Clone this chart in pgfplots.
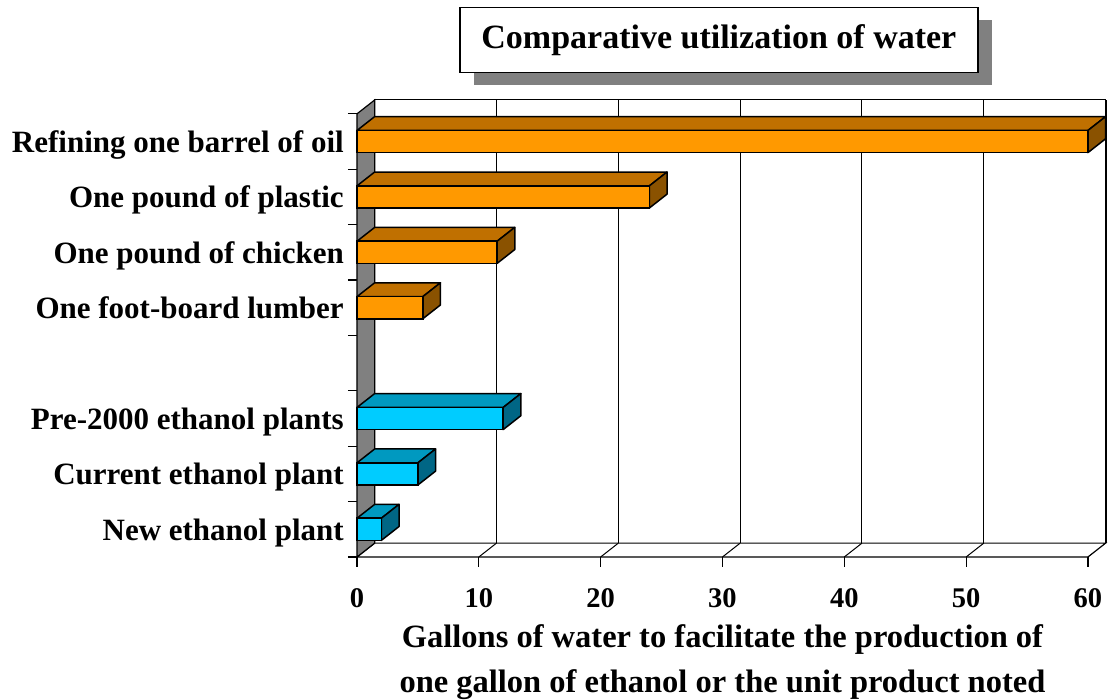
\documentclass[border=0pt]{standalone}
\usepackage{fontspec}
\setmainfont{Liberation Serif}
\usepackage{pgfplots}
\usepackage{pgfplotstable}
\pgfplotsset{compat=1.18}
\usetikzlibrary{shadows}
\definecolor{orF}{HTML}{FF9900}
\definecolor{orT}{HTML}{C07000}
\definecolor{orS}{HTML}{8A5200}
\definecolor{cyF}{HTML}{00CCFF}
\definecolor{cyT}{HTML}{0099C0}
\definecolor{cyS}{HTML}{006685}
\definecolor{wallgray}{HTML}{808080}

% category position (slot centre) and gallons of water
\pgfplotstableread{
pos value
7.5 60
6.5 24
5.5 11.5
4.5 5.4
}\orangedata
\pgfplotstableread{
pos value
2.5 12
1.5 5
0.5 2
}\cyandata

\begin{document}
\begin{tikzpicture}
\useasboundingbox (-357pt,-143pt) rectangle (752pt,557pt);
\begin{axis}[
  at={(0pt,0pt)}, anchor=south west,
  scale only axis, width=748.6pt, height=457pt,
  xmin=0, xmax=61.45, ymin=0, ymax=8.25,
  axis x line*=bottom, axis y line*=left,
  axis line style={draw=none},
  clip=false,
  xtick={0,10,...,60},
  ytick={0.5,1.5,2.5,4.5,5.5,6.5,7.5},
  yticklabels={New ethanol plant, Current ethanol plant, Pre-2000 ethanol plants, One foot-board lumber, One pound of chicken, One pound of plastic, Refining one barrel of oil},
  minor ytick={0,...,8},
  tick align=outside,
  major tick length=10pt,
  minor tick length=9pt,
  tick style={black, line width=1.2pt},
  every major y tick/.append style={draw=none},
  /pgf/number format/assume math mode=true,
  xticklabel style={font=\fontsize{28.5}{32}\selectfont\bfseries, anchor=base, inner sep=0pt, yshift=-41pt},
  yticklabel style={font=\fontsize{31}{36}\selectfont\bfseries, anchor=base east, inner sep=0pt, xshift=-3pt, yshift=-11pt},
  xlabel={Gallons of water to facilitate the production of\\one gallon of ethanol or the unit product noted},
  xlabel style={align=center, font=\fontsize{32.5}{45}\selectfont\bfseries, at={(axis description cs:0.4882,0)}, anchor=north, inner sep=0pt, yshift=-67pt},
  title={Comparative utilization of water},
  title style={at={(axis description cs:0.4834,1)}, anchor=center, yshift=54pt, draw=black, line width=1.5pt, fill=white, minimum width=518pt, minimum height=65pt, inner sep=0pt, font=\fontsize{34}{40}\selectfont\bfseries, general shadow={fill=wallgray, draw=none, shadow xshift=14pt, shadow yshift=-13pt}},
]
% back wall
\addplot[fill=white, draw=black, line width=1pt, mark=none, forget plot] coordinates {(1.45,0.25) (61.45,0.25) (61.45,8.25) (1.45,8.25)} -- cycle;
% gridlines on back wall
\addplot[black, line width=1pt, mark=none, forget plot] coordinates {(11.45,0.25) (11.45,8.25)};
\addplot[black, line width=1pt, mark=none, forget plot] coordinates {(21.45,0.25) (21.45,8.25)};
\addplot[black, line width=1pt, mark=none, forget plot] coordinates {(31.45,0.25) (31.45,8.25)};
\addplot[black, line width=1pt, mark=none, forget plot] coordinates {(41.45,0.25) (41.45,8.25)};
\addplot[black, line width=1pt, mark=none, forget plot] coordinates {(51.45,0.25) (51.45,8.25)};
\addplot[black, line width=2pt, mark=none, forget plot] coordinates {(61.45,0.25) (61.45,8.25)};
% floor
\addplot[fill=white, draw=black, line width=1.2pt, mark=none, forget plot] coordinates {(0,0) (60,0) (61.45,0.25) (1.45,0.25)} -- cycle;
\addplot[black, line width=1pt, mark=none, forget plot] coordinates {(10,0) (11.45,0.25)};
\addplot[black, line width=1pt, mark=none, forget plot] coordinates {(20,0) (21.45,0.25)};
\addplot[black, line width=1pt, mark=none, forget plot] coordinates {(30,0) (31.45,0.25)};
\addplot[black, line width=1pt, mark=none, forget plot] coordinates {(40,0) (41.45,0.25)};
\addplot[black, line width=1pt, mark=none, forget plot] coordinates {(50,0) (51.45,0.25)};
% left wall
\addplot[fill=wallgray, draw=black, line width=1.2pt, mark=none, forget plot] coordinates {(0,0) (1.45,0.25) (1.45,8.25) (0,8)} -- cycle;

% ---- bars: top faces and side faces
\pgfplotsset{barface/.style={draw=black, line width=1.5pt, line join=round, mark=none, forget plot}}
% Refining one barrel of oil (60)
\addplot[barface, fill=orT] coordinates {(0,7.7) (60,7.7) (61.45,7.95) (1.45,7.95)} -- cycle;
\addplot[barface, fill=orS] coordinates {(60,7.3) (60,7.7) (61.45,7.95) (61.45,7.55)} -- cycle;
% One pound of plastic (24)
\addplot[barface, fill=orT] coordinates {(0,6.7) (24,6.7) (25.45,6.95) (1.45,6.95)} -- cycle;
\addplot[barface, fill=orS] coordinates {(24,6.3) (24,6.7) (25.45,6.95) (25.45,6.55)} -- cycle;
% One pound of chicken (11.5)
\addplot[barface, fill=orT] coordinates {(0,5.7) (11.5,5.7) (12.95,5.95) (1.45,5.95)} -- cycle;
\addplot[barface, fill=orS] coordinates {(11.5,5.3) (11.5,5.7) (12.95,5.95) (12.95,5.55)} -- cycle;
% One foot-board lumber (5.4)
\addplot[barface, fill=orT] coordinates {(0,4.7) (5.4,4.7) (6.85,4.95) (1.45,4.95)} -- cycle;
\addplot[barface, fill=orS] coordinates {(5.4,4.3) (5.4,4.7) (6.85,4.95) (6.85,4.55)} -- cycle;
% Pre-2000 ethanol plants (12)
\addplot[barface, fill=cyT] coordinates {(0,2.7) (12,2.7) (13.45,2.95) (1.45,2.95)} -- cycle;
\addplot[barface, fill=cyS] coordinates {(12,2.3) (12,2.7) (13.45,2.95) (13.45,2.55)} -- cycle;
% Current ethanol plant (5)
\addplot[barface, fill=cyT] coordinates {(0,1.7) (5,1.7) (6.45,1.95) (1.45,1.95)} -- cycle;
\addplot[barface, fill=cyS] coordinates {(5,1.3) (5,1.7) (6.45,1.95) (6.45,1.55)} -- cycle;
% New ethanol plant (2)
\addplot[barface, fill=cyT] coordinates {(0,0.7) (2,0.7) (3.45,0.95) (1.45,0.95)} -- cycle;
\addplot[barface, fill=cyS] coordinates {(2,0.3) (2,0.7) (3.45,0.95) (3.45,0.55)} -- cycle;

% ---- front faces
\addplot[xbar, bar shift=0pt, bar width=0.4, fill=orF, draw=black, line width=1.5pt, forget plot] table[x=value, y=pos] {\orangedata};
\addplot[xbar, bar shift=0pt, bar width=0.4, fill=cyF, draw=black, line width=1.5pt, forget plot] table[x=value, y=pos] {\cyandata};
\end{axis}
\end{tikzpicture}
\end{document}
